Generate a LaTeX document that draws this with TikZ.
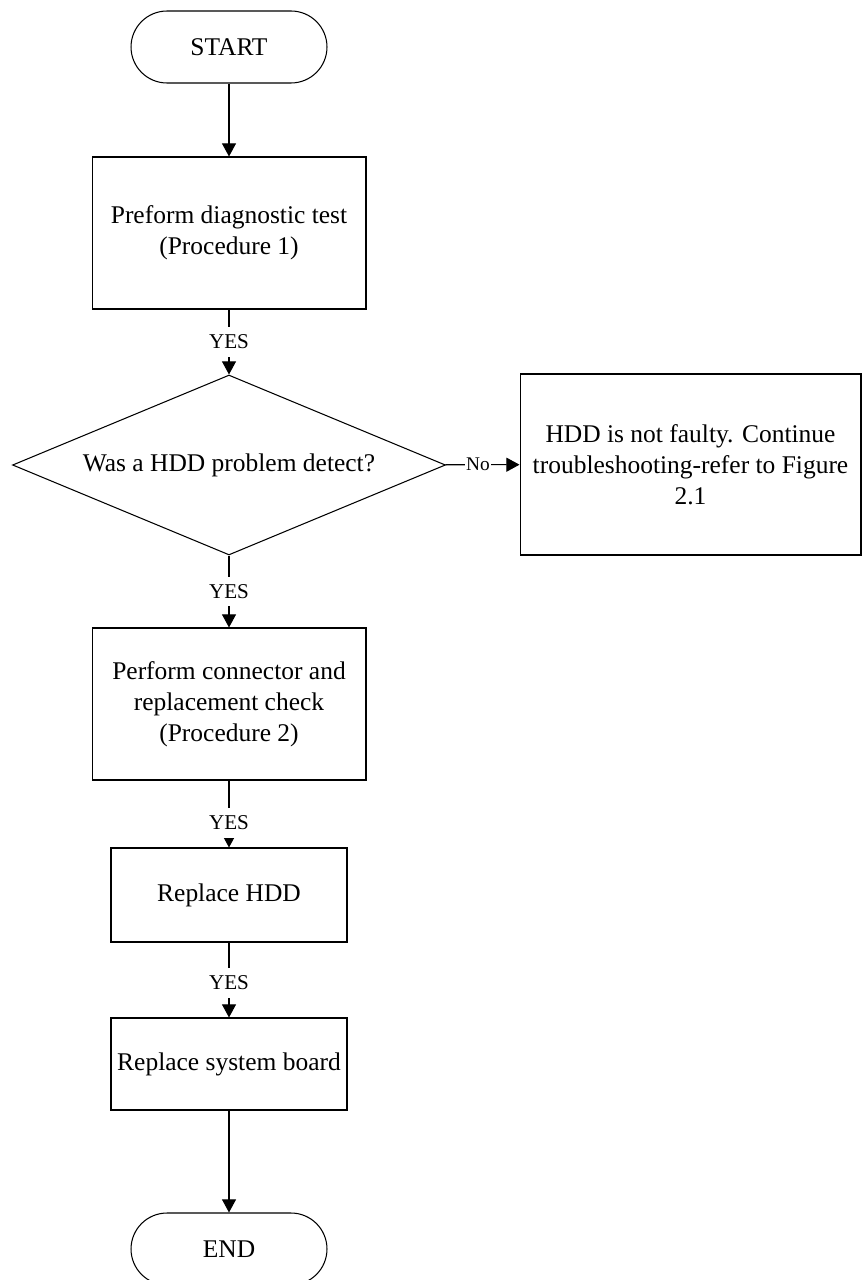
\documentclass[tikz,border=0pt]{standalone}
\usepackage{fontspec}
\setmainfont{Liberation Serif}
\usetikzlibrary{shapes.geometric,arrows.meta}

\begin{document}
\begin{tikzpicture}[x=0.02cm, y=-0.02cm, line width=0.6pt,
    every node/.style={font=\fontsize{14.5}{17.5}\selectfont, align=center},
    terminal/.style={draw, rounded corners=0.72cm, minimum width=3.92cm, minimum height=1.44cm, inner sep=0pt},
    procbox/.style={draw, inner sep=0pt},
    decision/.style={draw, diamond, aspect=2.4, minimum width=8.66cm, minimum height=3.6cm, inner sep=0pt},
    answer/.style={fill=white, font=\fontsize{12}{14}\selectfont, inner xsep=1pt, inner ysep=4.5pt},
    flow/.style={-{Triangle[length=7.5pt, width=8pt]}}]
    \useasboundingbox (0,0) rectangle (862,1280);

    %% main column
    \node[terminal] (start) at (229,47) {START};
    \node[procbox, minimum width=5.48cm, minimum height=3.04cm] (diagtest) at (229,233) {Preform diagnostic test\\(Procedure 1)};
    \node[decision] (hddcheck) at (229,465) {Was a HDD problem detect?};
    \node[procbox, minimum width=6.82cm, minimum height=3.62cm] (notfaulty) at (690.5,464.5) {HDD is not faulty. Continue\\troubleshooting-refer to Figure\\2.1};
    \node[procbox, minimum width=5.48cm, minimum height=3.04cm] (conncheck) at (229,704) {Perform connector and\\replacement check\\(Procedure 2)};
    \node[procbox, minimum width=4.72cm, minimum height=1.88cm] (replhdd) at (229,895) {Replace HDD};
    \node[procbox, minimum width=4.72cm, minimum height=1.84cm] (replboard) at (229,1064) {Replace system board};
    \node[terminal] (end) at (229,1249) {END};

    %% connectors
    \draw[flow] (start) -- (diagtest);
    \draw[flow] (diagtest) -- node[answer] {YES} (hddcheck);
    \draw[flow] (hddcheck) -- node[answer, pos=0.44, font=\fontsize{11}{13}\selectfont, inner sep=0.8pt] {No} (notfaulty);
    \draw[flow] (hddcheck) -- node[answer] {YES} (conncheck);
    \draw[flow] (conncheck) -- node[answer, pos=0.63] {YES} (replhdd);
    \draw[flow] (replhdd) -- node[answer, pos=0.54] {YES} (replboard);
    \draw[flow] (replboard) -- (end);
\end{tikzpicture}
\end{document}
